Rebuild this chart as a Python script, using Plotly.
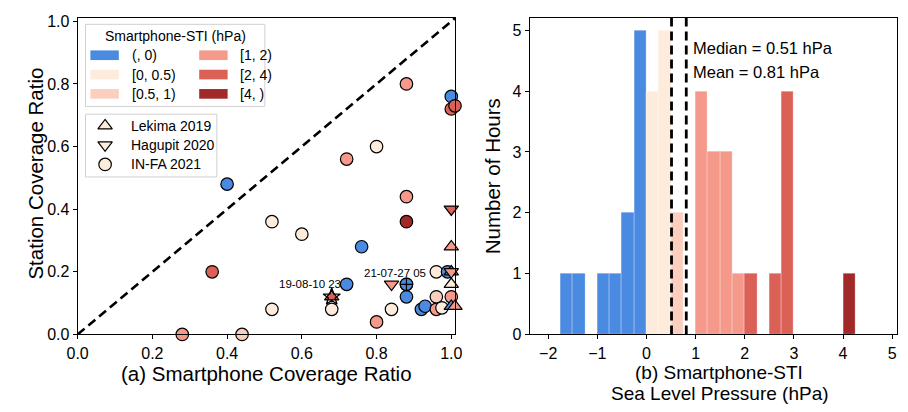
import plotly.graph_objects as go

W, H = 908, 412
FONT = "Liberation Sans, Arial, sans-serif"

# ---------------- data ----------------
cat_labels = ["(, 0)", "[0, 0.5)", "[0.5, 1)", "[1, 2)", "[2, 4)", "[4, )"]
cat_colors = ["#4a8ae0", "#fdecdb", "#fbcfbd", "#f5998a", "#db6157", "#a2292a"]
cat_bounds = [0, 0.5, 1, 2, 4]

# IN-FA 2021 (circles): smartphone coverage, station coverage, STI category index
infa_x = [0.40, 0.88, 1.00, 1.00, 1.01, 0.80, 0.72, 0.88, 0.52, 0.88, 0.60, 0.76, 0.36,
          0.96, 0.99, 0.72, 0.88, 0.88, 0.96, 1.00, 0.52, 0.68, 0.84, 0.92, 0.93, 0.96,
          0.975, 0.80, 0.28, 0.44]
infa_y = [0.48, 0.80, 0.76, 0.72, 0.73, 0.60, 0.56, 0.44, 0.36, 0.36, 0.32, 0.28, 0.20,
          0.20, 0.20, 0.16, 0.16, 0.12, 0.12, 0.12, 0.08, 0.08, 0.08, 0.08, 0.09, 0.08,
          0.085, 0.04, 0.00, 0.00]
infa_c = [0, 3, 0, 4, 4, 1, 3, 3, 1, 5, 1, 0, 4,
          1, 0, 0, 0, 0, 2, 3, 1, 1, 1, 0, 0, 3,
          1, 3, 3, 2]

# Lekima 2019 (triangle up)
lekima_x = [1.00, 1.00, 1.00, 1.00, 1.01, 0.68]
lekima_y = [0.28, 0.20, 0.16, 0.09, 0.09, 0.12]
lekima_c = [3, 4, 1, 0, 3, 4]

# Hagupit 2020 (triangle down)
hagupit_x = [1.00, 1.00, 0.84]
hagupit_y = [0.40, 0.20, 0.16]
hagupit_c = [4, 3, 3]

# highlighted hours
hl_lekima_idx = 5
hl_infa_idx = 16
hl_lekima_label = "19-08-10 23"
hl_infa_label = "21-07-27 05"

# histogram of Smartphone-STI (hPa)
bin_width = 0.25
hist_left = [-1.75, -1.5, -1.0, -0.75, -0.5, -0.25, 0.0, 0.25, 0.5,
             1.0, 1.25, 1.5, 1.75, 2.0, 2.5, 2.75, 4.0]
hist_count = [1, 1, 1, 1, 2, 5, 4, 5, 2,
              4, 3, 3, 1, 1, 1, 4, 1]
median_val = 0.51
mean_val = 0.81

storm_labels = ["Lekima 2019", "Hagupit 2020", "IN-FA 2021"]
storm_symbols = ["triangle-up", "triangle-down", "circle"]


def cat_of(v):
    for i, b in enumerate(cat_bounds):
        if v < b:
            return i
    return len(cat_bounds)


def pxx(x):
    return x / W


def pxy(y):
    return 1 - y / H


fig = go.Figure()

# y = x reference line
fig.add_trace(go.Scatter(x=[0, 1.2], y=[0, 1.2], mode="lines",
                         line=dict(color="black", width=2.6, dash="9px,5px"),
                         xaxis="x", yaxis="y", showlegend=False, hoverinfo="skip"))

MS = 12.5
LW = 1.2


def add_storm(xs, ys, cs, symbol):
    fig.add_trace(go.Scatter(
        x=xs, y=ys, mode="markers", xaxis="x", yaxis="y", showlegend=False,
        cliponaxis=False,
        marker=dict(symbol=symbol, size=MS, color=[cat_colors[c] for c in cs],
                    line=dict(color="black", width=LW))))


add_storm(infa_x, infa_y, infa_c, "circle")
add_storm(lekima_x, lekima_y, lekima_c, "triangle-up")
add_storm(hagupit_x, hagupit_y, hagupit_c, "triangle-down")

# highlighted points
fig.add_trace(go.Scatter(
    x=[infa_x[hl_infa_idx]], y=[infa_y[hl_infa_idx]], mode="markers", xaxis="x", yaxis="y",
    showlegend=False, cliponaxis=False,
    marker=dict(symbol="circle-cross", size=MS, color=cat_colors[infa_c[hl_infa_idx]],
                line=dict(color="black", width=LW))))
fig.add_trace(go.Scatter(
    x=[lekima_x[hl_lekima_idx]], y=[lekima_y[hl_lekima_idx]], mode="markers", xaxis="x", yaxis="y",
    showlegend=False, cliponaxis=False,
    marker=dict(symbol="star-open", size=13, color="black", line=dict(width=1.3))))

# histogram bars
hist_x = [l + bin_width / 2 for l in hist_left]
hist_col = [cat_colors[cat_of(l + 1e-9)] for l in hist_left]
fig.add_trace(go.Bar(x=hist_x, y=hist_count, width=bin_width, xaxis="x2", yaxis="y2",
                     marker=dict(color=hist_col, line=dict(color="rgba(255,255,255,0.35)", width=0.8)),
                     showlegend=False))
fig.add_trace(go.Scatter(x=[median_val, median_val], y=[0, 6], mode="lines", xaxis="x2", yaxis="y2",
                         line=dict(color="black", width=2.8, dash="9px,5px"), showlegend=False))
fig.add_trace(go.Scatter(x=[mean_val, mean_val], y=[0, 6], mode="lines", xaxis="x2", yaxis="y2",
                         line=dict(color="black", width=2.8, dash="9px,5px"), showlegend=False))

# marker legend (overlay axes in pixel space)
fig.add_trace(go.Scatter(
    x=[96, 96, 96], y=[125, 145, 165], mode="markers", xaxis="x3", yaxis="y3", showlegend=False,
    marker=dict(symbol=storm_symbols, size=MS, color=cat_colors[1],
                line=dict(color="black", width=LW)), hoverinfo="skip"))

shapes = []
annotations = []

# legend boxes
shapes.append(dict(type="rect", xref="paper", yref="paper", layer="below",
                   x0=pxx(76), x1=pxx(259), y0=pxy(20), y1=pxy(105),
                   fillcolor="rgba(255,255,255,0.85)", line=dict(color="#d0d0d0", width=1)))
shapes.append(dict(type="rect", xref="paper", yref="paper", layer="below",
                   x0=pxx(76), x1=pxx(210), y0=pxy(113), y1=pxy(178),
                   fillcolor="rgba(255,255,255,0.85)", line=dict(color="#d0d0d0", width=1)))
annotations.append(dict(text="Smartphone-STI (hPa)", xref="paper", yref="paper",
                        x=pxx(168), y=pxy(32), xanchor="center", yanchor="middle",
                        showarrow=False, font=dict(size=14, color="black", family=FONT)))
for i, lab in enumerate(cat_labels):
    col = i // 3
    row = i % 3
    px0 = 81 if col == 0 else 192
    cy = 52 + 20 * row
    shapes.append(dict(type="rect", xref="paper", yref="paper", layer="above",
                       x0=pxx(px0), x1=pxx(px0 + 29), y0=pxy(cy + 5), y1=pxy(cy - 5),
                       fillcolor=cat_colors[i], line=dict(width=0)))
    annotations.append(dict(text=lab, xref="paper", yref="paper", x=pxx(px0 + 40), y=pxy(cy),
                            xanchor="left", yanchor="middle", showarrow=False,
                            font=dict(size=14, color="black", family=FONT)))
for i, lab in enumerate(storm_labels):
    annotations.append(dict(text=lab, xref="paper", yref="paper", x=pxx(120), y=pxy(125 + 20 * i),
                            xanchor="left", yanchor="middle", showarrow=False,
                            font=dict(size=14, color="black", family=FONT)))

# highlight labels
annotations.append(dict(text=hl_lekima_label, xref="paper", yref="paper", x=pxx(305), y=pxy(289),
                        xanchor="center", yanchor="middle", showarrow=False,
                        font=dict(size=11.5, color="black", family=FONT)))
annotations.append(dict(text=hl_infa_label, xref="paper", yref="paper", x=pxx(392), y=pxy(277),
                        xanchor="center", yanchor="middle", showarrow=False,
                        font=dict(size=11.5, color="black", family=FONT)))

# median / mean text
annotations.append(dict(text=f"Median = {median_val:.2f} hPa", xref="paper", yref="paper",
                        x=pxx(694), y=pxy(44), xanchor="left", yanchor="middle", showarrow=False,
                        font=dict(size=16.5, color="black", family=FONT)))
annotations.append(dict(text=f"Mean = {mean_val:.2f} hPa", xref="paper", yref="paper",
                        x=pxx(694), y=pxy(69), xanchor="left", yanchor="middle", showarrow=False,
                        font=dict(size=16.5, color="black", family=FONT)))

# axis titles
TF = 20.5
annotations.append(dict(text="Station Coverage Ratio", xref="paper", yref="paper", x=pxx(25), y=pxy(175),
                        xanchor="center", yanchor="middle", textangle=-90, showarrow=False,
                        font=dict(size=TF, color="black", family=FONT)))
annotations.append(dict(text="(a) Smartphone Coverage Ratio", xref="paper", yref="paper",
                        x=pxx(261), y=pxy(381), xanchor="center", yanchor="middle", showarrow=False,
                        font=dict(size=TF, color="black", family=FONT)))
annotations.append(dict(text="Number of Hours", xref="paper", yref="paper", x=pxx(492), y=pxy(177),
                        xanchor="center", yanchor="middle", textangle=-90, showarrow=False,
                        font=dict(size=TF, color="black", family=FONT)))
annotations.append(dict(text="(b) Smartphone-STI", xref="paper", yref="paper",
                        x=pxx(722), y=pxy(380), xanchor="center", yanchor="middle", showarrow=False,
                        font=dict(size=19, color="black", family=FONT)))
annotations.append(dict(text="Sea Level Pressure (hPa)", xref="paper", yref="paper",
                        x=pxx(723), y=pxy(402), xanchor="center", yanchor="middle", showarrow=False,
                        font=dict(size=19, color="black", family=FONT)))

axis_common = dict(showline=True, mirror=True, linecolor="black", linewidth=1, ticks="outside",
                   ticklen=4, tickwidth=1, tickcolor="black", showgrid=False, zeroline=False,
                   tickfont=dict(size=16, color="black", family=FONT))

fig.update_layout(
    width=W, height=H, margin=dict(l=0, r=0, t=0, b=0),
    paper_bgcolor="white", plot_bgcolor="rgba(0,0,0,0)", showlegend=False,
    font=dict(family=FONT, color="black"),
    bargap=0,
    xaxis=dict(domain=[pxx(68), pxx(453)], range=[0, 1.01], anchor="y",
               tickvals=[0, 0.2, 0.4, 0.6, 0.8, 1.0], tickformat=".1f", **axis_common),
    yaxis=dict(domain=[pxy(341), pxy(13)], range=[0, 1.012], anchor="x",
               tickvals=[0, 0.2, 0.4, 0.6, 0.8, 1.0], tickformat=".1f", **axis_common),
    xaxis2=dict(domain=[pxx(529), pxx(904)], range=[-2.38, 5.1], anchor="y2",
                tickvals=[-2, -1, 0, 1, 2, 3, 4, 5], **axis_common),
    yaxis2=dict(domain=[pxy(341), pxy(13)], range=[0, 5.21], anchor="x2",
                tickvals=[0, 1, 2, 3, 4, 5], **axis_common),
    xaxis3=dict(domain=[0, 1], range=[0, W], anchor="y3", visible=False, fixedrange=True),
    yaxis3=dict(domain=[0, 1], range=[H, 0], anchor="x3", visible=False, fixedrange=True),
    shapes=shapes, annotations=annotations,
)

fig.write_html("out.html")
